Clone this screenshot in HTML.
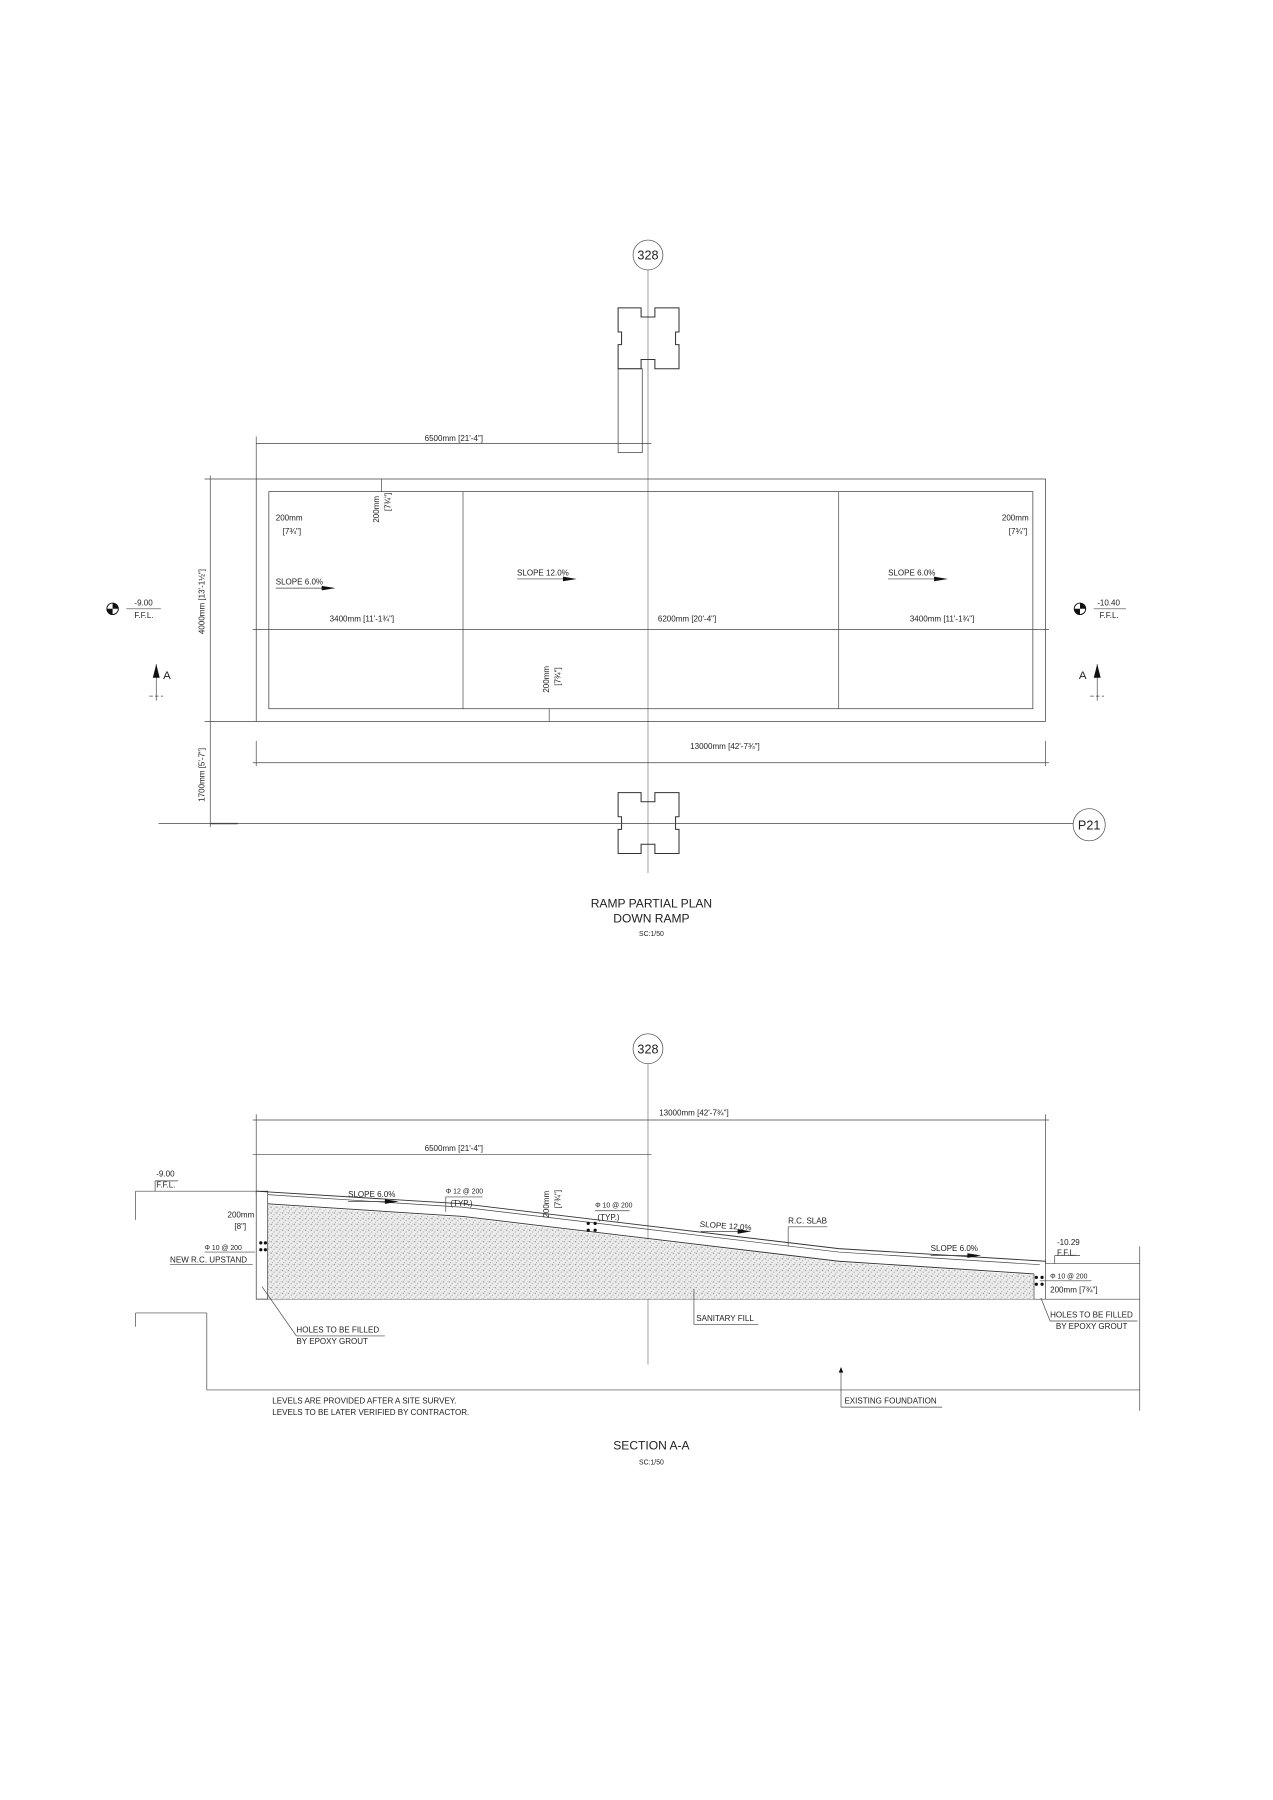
<!DOCTYPE html>
<html><head><meta charset="utf-8"><style>
html,body{margin:0;padding:0;background:#fff;}
svg{display:block;}
text{font-family:"Liberation Sans",sans-serif;fill:#222;}
</style></head><body>
<svg width="1273" height="1800" viewBox="0 0 1108 1567" preserveAspectRatio="none" xmlns="http://www.w3.org/2000/svg">
<defs>
<pattern id="dots" width="5" height="5" patternUnits="userSpaceOnUse">
<rect width="5" height="5" fill="#ececec"/>
<circle cx="1" cy="1" r="0.55" fill="#888"/><circle cx="3.5" cy="2.5" r="0.5" fill="#999"/><circle cx="2" cy="4.2" r="0.45" fill="#888"/><circle cx="4.5" cy="0.5" r="0.4" fill="#aaa"/>
</pattern>
<g id="col">
<path d="M0,0 H20 V8 H32 V0 H53 V21 H50 V32 H53 V53 H32 V45 H20 V53 H0 V32 H3 V21 H0 Z" fill="none" stroke="#333" stroke-width="0.9"/>
</g>
</defs>
<g stroke="#444" stroke-width="0.6" fill="none">
<circle cx="564" cy="222" r="13"/>
<line x1="564" y1="235" x2="564" y2="760" stroke="#777"/>
<use href="#col" x="538" y="268"/>
<rect x="538" y="321" width="21" height="73" stroke="#333"/>
<use href="#col" x="538" y="690"/>
<rect x="223" y="417" width="687" height="211" stroke="#333"/>
<rect x="234" y="428" width="665" height="189" stroke="#333"/>
<line x1="403" y1="428" x2="403" y2="617"/>
<line x1="730" y1="428" x2="730" y2="617"/>
<line x1="220" y1="548" x2="913" y2="548"/>
<line x1="223" y1="386" x2="567" y2="386"/>
<line x1="223" y1="380" x2="223" y2="417"/>
<line x1="183" y1="414" x2="183" y2="720"/>
<line x1="178" y1="417" x2="223" y2="417"/>
<line x1="178" y1="628" x2="223" y2="628"/>
<line x1="220" y1="664" x2="913" y2="664"/>
<line x1="223" y1="645" x2="223" y2="667"/>
<line x1="910" y1="645" x2="910" y2="667"/>
<line x1="138" y1="717" x2="934" y2="717"/>
<line x1="183" y1="717" x2="207" y2="717" stroke-width="1.2"/>
<circle cx="948" cy="718" r="14"/>
<line x1="110" y1="530" x2="140" y2="530"/>
<line x1="952" y1="530" x2="980" y2="530"/>
<line x1="136" y1="578" x2="136" y2="610"/>
<line x1="130" y1="606" x2="142" y2="606" stroke-dasharray="3,2"/>
<line x1="955" y1="578" x2="955" y2="610"/>
<line x1="949" y1="606" x2="961" y2="606" stroke-dasharray="3,2"/>
<line x1="240" y1="512" x2="290" y2="512"/>
<line x1="450" y1="504" x2="500" y2="504"/>
<line x1="773" y1="504" x2="823" y2="504"/>
<line x1="332" y1="417" x2="332" y2="428"/>
<line x1="478" y1="617" x2="478" y2="628"/>
<circle cx="564" cy="913" r="13"/>
<line x1="564" y1="926" x2="564" y2="1188" stroke="#777"/>
<line x1="220" y1="975" x2="913" y2="975"/>
<line x1="223" y1="970" x2="223" y2="1040"/>
<line x1="910" y1="970" x2="910" y2="1100"/>
<line x1="220" y1="1005" x2="567" y2="1005"/>
<line x1="118" y1="1037" x2="223" y2="1037"/>
<line x1="118" y1="1037" x2="118" y2="1062"/>
<line x1="118" y1="1143" x2="180" y2="1143"/>
<line x1="118" y1="1143" x2="118" y2="1155"/>
<line x1="180" y1="1143" x2="180" y2="1210"/>
<line x1="180" y1="1210" x2="992" y2="1210"/>
<line x1="992" y1="1085" x2="992" y2="1228"/>
<line x1="910" y1="1100" x2="992" y2="1100"/>
<line x1="223" y1="1131" x2="992" y2="1131"/>
<polygon points="233,1049 403,1060 730,1099 900,1110 900,1131 233,1131" fill="url(#dots)" stroke="none"/>
<polyline points="223,1037 403,1048 730,1087 910,1098" stroke="#333" stroke-width="0.8"/>
<polyline points="233,1040 403,1051 730,1090 905,1101" />
<polyline points="233,1048 403,1059 730,1098 900,1109" stroke="#333" stroke-width="0.8"/>
<rect x="223" y="1037" width="10" height="94" stroke="#333"/>
<line x1="900" y1="1109" x2="900" y2="1131"/>
<line x1="910" y1="1098" x2="910" y2="1131"/>
<line x1="135" y1="1028" x2="135" y2="1037"/><line x1="135" y1="1028" x2="155" y2="1028"/>
<line x1="918" y1="1093" x2="918" y2="1100"/><line x1="918" y1="1093" x2="940" y2="1093"/>
<line x1="303" y1="1046" x2="345" y2="1046"/>
<line x1="610" y1="1072" x2="650" y2="1072"/>
<line x1="810" y1="1093" x2="850" y2="1093"/>
<line x1="388" y1="1042" x2="420" y2="1042"/><line x1="388" y1="1042" x2="388" y2="1055"/>
<line x1="518" y1="1054" x2="548" y2="1054"/>
<line x1="686" y1="1068" x2="720" y2="1068"/><line x1="686" y1="1068" x2="686" y2="1085"/>
<line x1="148" y1="1101" x2="220" y2="1101"/>
<line x1="178" y1="1090" x2="222" y2="1090"/>
<line x1="228" y1="1120" x2="258" y2="1163"/><line x1="258" y1="1163" x2="335" y2="1163"/>
<line x1="604" y1="1122" x2="604" y2="1153"/><line x1="604" y1="1153" x2="660" y2="1153"/>
<line x1="732" y1="1195" x2="732" y2="1225"/><line x1="732" y1="1225" x2="820" y2="1225"/>
<line x1="906" y1="1130" x2="914" y2="1150"/><line x1="914" y1="1150" x2="990" y2="1150"/>
<line x1="905" y1="1115" x2="950" y2="1115"/>
</g>
<g fill="#111">
<polygon points="280,510 292,512 280,514"/><polygon points="490,502 502,504 490,506"/><polygon points="813,502 825,504 813,506"/>
<polygon points="133,590 136,578 139,590"/><polygon points="952,590 955,578 958,590"/>
<circle cx="98" cy="530" r="5" fill="none" stroke="#111" stroke-width="0.8"/><path d="M98,525 A5,5 0 0 1 103,530 H98Z M98,535 A5,5 0 0 1 93,530 H98Z"/>
<circle cx="940" cy="530" r="5" fill="none" stroke="#111" stroke-width="0.8"/><path d="M940,525 A5,5 0 0 1 945,530 H940Z M940,535 A5,5 0 0 1 935,530 H940Z"/>
<polygon points="335,1044 347,1046 335,1048"/><polygon points="642,1070 654,1072 642,1074"/><polygon points="842,1091 854,1093 842,1095"/>
<circle cx="227" cy="1082" r="1.4"/><circle cx="231" cy="1082" r="1.4"/><circle cx="227" cy="1088" r="1.4"/><circle cx="231" cy="1088" r="1.4"/>
<circle cx="512" cy="1065" r="1.4"/><circle cx="518" cy="1065" r="1.4"/><circle cx="512" cy="1071" r="1.4"/><circle cx="518" cy="1071" r="1.4"/>
<circle cx="902" cy="1112" r="1.4"/><circle cx="907" cy="1112" r="1.4"/><circle cx="902" cy="1118" r="1.4"/><circle cx="907" cy="1118" r="1.4"/>
<polygon points="730,1195 732,1190 734,1195"/>
</g>
<g font-size="7">
<text x="564" y="226" font-size="11" text-anchor="middle">328</text>
<text x="948" y="722" font-size="11" text-anchor="middle">P21</text>
<text x="395" y="384" text-anchor="middle">6500mm [21'-4"]</text>
<text x="315" y="541" text-anchor="middle">3400mm [11'-1¾"]</text>
<text x="598" y="541" text-anchor="middle">6200mm [20'-4"]</text>
<text x="820" y="541" text-anchor="middle">3400mm [11'-1¾"]</text>
<text x="631" y="652" text-anchor="middle">13000mm [42'-7¾"]</text>
<text x="240" y="509">SLOPE 6.0%</text>
<text x="450" y="501">SLOPE 12.0%</text>
<text x="773" y="501">SLOPE 6.0%</text>
<text x="240" y="453">200mm</text><text x="246" y="465">[7¾"]</text>
<text x="872" y="453">200mm</text><text x="878" y="465">[7¾"]</text>
<text transform="translate(330,455) rotate(-90)">200mm</text><text transform="translate(340,445) rotate(-90)">[7¾"]</text>
<text transform="translate(478,603) rotate(-90)">200mm</text><text transform="translate(488,597) rotate(-90)">[7¾"]</text>
<text transform="translate(178,552) rotate(-90)">4000mm [13'-1½"]</text>
<text transform="translate(178,698) rotate(-90)">1700mm [5'-7"]</text>
<text x="117" y="527">-9.00</text><text x="117" y="538">F.F.L.</text>
<text x="955" y="527">-10.40</text><text x="957" y="538">F.F.L.</text>
<text x="142" y="591" font-size="10">A</text><text x="939" y="591" font-size="10">A</text>
<text x="567" y="790" font-size="10.5" text-anchor="middle">RAMP PARTIAL PLAN</text>
<text x="567" y="803" font-size="10.5" text-anchor="middle">DOWN RAMP</text>
<text x="567" y="815" font-size="6" text-anchor="middle">SC:1/50</text>
<text x="564" y="917" font-size="11" text-anchor="middle">328</text>
<text x="604" y="971" text-anchor="middle">13000mm [42'-7¾"]</text>
<text x="395" y="1002" text-anchor="middle">6500mm [21'-4"]</text>
<text x="136" y="1024">-9.00</text><text x="136" y="1034">F.F.L.</text>
<text x="920" y="1084">-10.29</text><text x="920" y="1093">F.F.L.</text>
<text x="303" y="1042">SLOPE 6.0%</text>
<text x="609" y="1068" transform="rotate(4 609 1068)">SLOPE 12.0%</text>
<text x="810" y="1089">SLOPE 6.0%</text>
<text x="686" y="1065">R.C. SLAB</text>
<text x="388" y="1039" font-size="6">Φ 12 @ 200</text><text x="392" y="1050">(TYP.)</text>
<text x="518" y="1051" font-size="6">Φ 10 @ 200</text><text x="520" y="1062">(TYP.)</text>
<text transform="translate(478,1060) rotate(-90)">200mm</text><text transform="translate(488,1052) rotate(-90)">[7¾"]</text>
<text x="198" y="1060">200mm</text><text x="204" y="1070">[8"]</text>
<text x="178" y="1088" font-size="6">Φ 10 @ 200</text>
<text x="148" y="1099">NEW R.C. UPSTAND</text>
<text x="258" y="1160">HOLES TO BE FILLED</text><text x="258" y="1170">BY EPOXY GROUT</text>
<text x="606" y="1150">SANITARY FILL</text>
<text x="914" y="1113" font-size="6">Φ 10 @ 200</text>
<text x="914" y="1125">200mm [7¾"]</text>
<text x="914" y="1147">HOLES TO BE FILLED</text><text x="919" y="1157">BY EPOXY GROUT</text>
<text x="735" y="1222">EXISTING FOUNDATION</text>
<text x="237" y="1222">LEVELS ARE PROVIDED AFTER A SITE SURVEY.</text>
<text x="237" y="1232">LEVELS TO BE LATER VERIFIED BY CONTRACTOR.</text>
<text x="567" y="1262" font-size="10.5" text-anchor="middle">SECTION A-A</text>
<text x="567" y="1275" font-size="6" text-anchor="middle">SC:1/50</text>
</g>
</svg>
</body></html>
